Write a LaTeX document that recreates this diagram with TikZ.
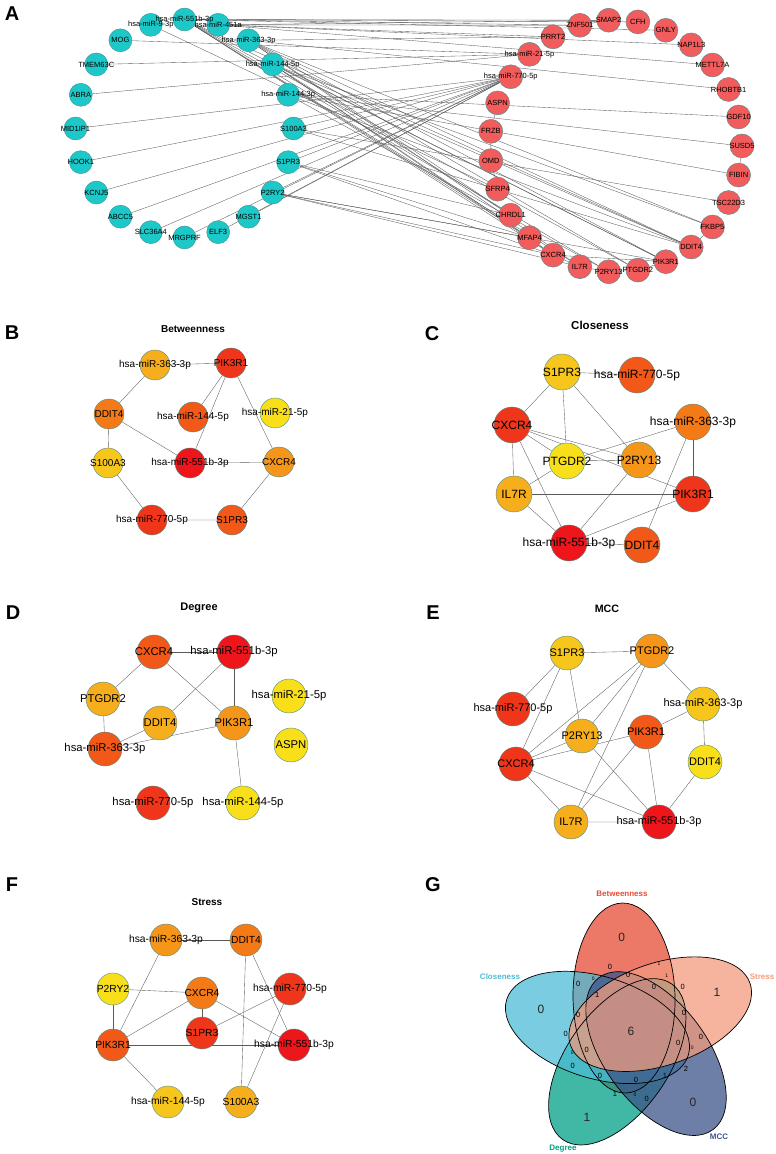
\documentclass[tikz,border=0pt]{standalone}
\usepackage{fontspec}
\setmainfont{Liberation Sans}

\pgfdeclarelayer{edges}
\pgfsetlayers{edges,main}

\definecolor{acyan}{HTML}{1CC8C8}
\definecolor{ared}{HTML}{F25C5C}
\definecolor{nline}{HTML}{4C8E8E}
\definecolor{eline}{HTML}{5A5A5A}
\definecolor{heatA}{HTML}{EE151B}
\definecolor{heatB}{HTML}{F0361A}
\definecolor{heatC}{HTML}{F25818}
\definecolor{heatD}{HTML}{F47A17}
\definecolor{heatE}{HTML}{F5961A}
\definecolor{heatF}{HTML}{F6AE1C}
\definecolor{heatG}{HTML}{F7C61C}
\definecolor{heatH}{HTML}{F8DF1A}
\definecolor{vbet}{HTML}{E64B35}
\definecolor{vclo}{HTML}{4DBBD5}
\definecolor{vdeg}{HTML}{00A087}
\definecolor{vmcc}{HTML}{3C5488}
\definecolor{vstr}{HTML}{F39B7F}

\begin{document}
\begin{tikzpicture}[x=1pt, y=1pt,
	gene/.style={circle, draw=nline, line width=0.4pt, inner sep=0pt},
	cyn/.style={gene, fill=acyan, minimum size=23pt},
	rdn/.style={gene, fill=ared, minimum size=24pt},
	atext/.style={font=\fontsize{7.5}{9}\selectfont, inner sep=0pt},
	link/.style={draw=eline, line width=0.35pt},
	tag/.style={font=\fontsize{20}{24}\selectfont\bfseries},
	heading/.style={font=\fontsize{#1}{#1}\selectfont\bfseries},
	setname/.style={font=\fontsize{8}{10}\selectfont\bfseries},
	vbig/.style={font=\fontsize{12}{14}\selectfont, text=black!85},
	vmid/.style={font=\fontsize{7.5}{8}\selectfont, text=black},
	vsml/.style={font=\fontsize{5}{5}\selectfont, text=black},
	oval/.style={fill opacity=0.75}]
	\useasboundingbox (0,0) rectangle (776,1154);

	% panel letters
	\node[tag] (tA) at (12,1140) {A};
	\node[tag] (tB) at (12,821) {B};
	\node[tag] (tC) at (432,820) {C};
	\node[tag] (tD) at (13,541) {D};
	\node[tag] (tE) at (433,541) {E};
	\node[tag] (tF) at (12,269) {F};
	\node[tag] (tG) at (433,269) {G};

	% A: whole network
	\begin{scope}[shift={(184.5,1025.5)}, every label/.style={atext}]
	\node[cyn] (a551b) at (90:109) {};
	\node[cyn] (a93p) at (108:109) {};
	\node[cyn, label=center:MOG] (aMOG) at (126:109) {};
	\node[cyn, label=center:TMEM63C] (aTMEM) at (144:109) {};
	\node[cyn, label=center:ABRA] (aABRA) at (162:109) {};
	\node[cyn, label=center:MID1IP1] (aMID) at (180:109) {};
	\node[cyn, label=center:HOOK1] (aHOOK) at (198:109) {};
	\node[cyn, label=center:KCNJ5] (aKCNJ) at (216:109) {};
	\node[cyn, label=center:ABCC5] (aABCC) at (234:109) {};
	\node[cyn, label=center:SLC36A4] (aSLC) at (252:109) {};
	\node[cyn, label=center:MRGPRF] (aMRG) at (270:109) {};
	\node[cyn, label=center:ELF3] (aELF) at (288:109) {};
	\node[cyn, label=center:MGST1] (aMGST) at (306:109) {};
	\node[cyn, label=center:P2RY2] (aP2RY2) at (324:109) {};
	\node[cyn, label=center:S1PR3] (aS1PR3) at (342:109) {};
	\node[cyn, label=center:S100A3] (aS100) at (0:109) {};
	\node[cyn, label=center:hsa-miR-144-3p] (a1443) at (18:109) {};
	\node[cyn, label=center:hsa-miR-144-5p] (a1445) at (36:109) {};
	\node[cyn, label=center:hsa-miR-363-3p] (a363) at (54:109) {};
	\node[cyn] (a451a) at (72:109) {};
	\end{scope}
	\node[atext] (t93p) at (a93p) {hsa-miR-9-3p};
	\node[atext] (t451a) at (a451a) {hsa-miR-451a};
	\node[atext] (t551b) at (a551b) {hsa-miR-551b-3p};
	\begin{scope}[shift={(616,1008)}, every label/.style={atext}]
	\node[rdn, label=center:CFH] (aCFH) at (80:126) {};
	\node[rdn, label=center:SMAP2] (aSMAP) at (93.33:126) {};
	\node[rdn, label=center:ZNF501] (aZNF) at (106.67:126) {};
	\node[rdn, label=center:PRRT2] (aPRRT) at (120:126) {};
	\node[rdn, label=center:hsa-miR-21-5p] (a215) at (133.33:126) {};
	\node[rdn, label=center:hsa-miR-770-5p] (a770) at (146.67:126) {};
	\node[rdn, label=center:ASPN] (aASPN) at (160:126) {};
	\node[rdn, label=center:FRZB] (aFRZB) at (173.33:126) {};
	\node[rdn, label=center:OMD] (aOMD) at (186.67:126) {};
	\node[rdn, label=center:SFRP4] (aSFRP) at (200:126) {};
	\node[rdn, label=center:CHRDL1] (aCHRD) at (213.33:126) {};
	\node[rdn, label=center:MFAP4] (aMFAP) at (226.67:126) {};
	\node[rdn, label=center:CXCR4] (aCXCR4) at (240:126) {};
	\node[rdn, label=center:IL7R] (aIL7R) at (253.33:126) {};
	\node[rdn, label=center:P2RY13] (aP2RY13) at (266.67:126) {};
	\node[rdn, label=center:PTGDR2] (aPTGDR2) at (280:126) {};
	\node[rdn, label=center:PIK3R1] (aPIK) at (293.33:126) {};
	\node[rdn, label=center:DDIT4] (aDDIT4) at (306.67:126) {};
	\node[rdn, label=center:FKBP5] (aFKBP) at (320:126) {};
	\node[rdn, label=center:TSC22D3] (aTSC) at (333.33:126) {};
	\node[rdn, label=center:FIBIN] (aFIBIN) at (346.67:126) {};
	\node[rdn, label=center:SUSD5] (aSUSD) at (0:126) {};
	\node[rdn, label=center:GDF10] (aGDF) at (13.33:126) {};
	\node[rdn, label=center:RHOBTB1] (aRHOB) at (26.67:126) {};
	\node[rdn, label=center:METTL7A] (aMETT) at (40:126) {};
	\node[rdn, label=center:NAP1L3] (aNAP) at (53.33:126) {};
	\node[rdn, label=center:GNLY] (aGNLY) at (66.67:126) {};
	\end{scope}
	\begin{pgfonlayer}{edges}
	\draw[link] (a551b) edge (aZNF) edge (aSMAP) edge (aCFH) edge (aGNLY) edge (aPIK) edge (aCXCR4) edge (aDDIT4) edge (aPTGDR2) edge (aP2RY13) edge (aIL7R) edge (aMFAP);
	\draw[link] (a451a) edge (aZNF) edge (aPRRT) edge (aNAP) edge (aMETT) edge (aSMAP);
	\draw[link] (a363) edge (aPIK) edge (aDDIT4) edge (aPRRT) edge (aRHOB) edge (aCHRD) edge (aPTGDR2) edge (aIL7R) edge (aFKBP);
	\draw[link] (a1445) edge (aPIK) edge (aFKBP) edge (aMFAP) edge (aCXCR4) edge (aCHRD) edge (aDDIT4);
	\draw[link] (a1443) edge (aGDF) edge (aSUSD) edge (aFIBIN) edge (aP2RY13) edge (aDDIT4);
	\draw[link] (a93p) edge (aSFRP);
	\draw[link] (a770) edge (aMID) edge (aHOOK) edge (aKCNJ) edge (aABCC) edge (aSLC) edge (aMRG) edge (aELF) edge (aMGST) edge (aP2RY2) edge (aS1PR3) edge (aS100);
	\draw[link] (a215) edge (aMOG) edge (aTMEM) edge (aABRA);
	\draw[link] (aASPN) -- (aFRZB) -- (aOMD) -- (aSFRP);
	\draw[link] (aSUSD) -- (aFIBIN);
	\draw[link] (aFKBP) -- (aDDIT4);
	\draw[link] (aZNF) -- (aSMAP);
	\draw[link] (aMFAP) -- (aCXCR4) -- (aIL7R) -- (aP2RY13) -- (aPTGDR2) -- (aPIK);
	\draw[link] (aCXCR4) -- (aPIK);
	\draw[link] (aS1PR3) edge (aCHRD) edge (aMFAP) edge (aCXCR4);
	\draw[link] (aP2RY2) edge (aMFAP) edge (aCXCR4) edge (aIL7R) edge (aPIK);
	\draw[link] (aS100) edge (aDDIT4) edge (aTSC);
	\end{pgfonlayer}

	% B: Betweenness
	\node[heading=10] (hB) at (193,825) {Betweenness};
	\begin{scope}[every label/.style={font=\fontsize{10}{12}\selectfont, inner sep=0pt}, hub/.style={gene, minimum size=30pt}]
	\node[hub, fill=heatF, label=center:hsa-miR-363-3p] (b363) at (155,789) {};
	\node[hub, fill=heatB, label=center:PIK3R1] (bPIK3R1) at (231,791) {};
	\node[hub, fill=heatD, label=center:DDIT4] (bDDIT4) at (109,740) {};
	\node[hub, fill=heatC, label=center:hsa-miR-144-5p] (b1445) at (193,737) {};
	\node[hub, fill=heatH, label=center:hsa-miR-21-5p] (b215) at (275,741) {};
	\node[hub, fill=heatG, label=center:S100A3] (bS100A3) at (108,691) {};
	\node[hub, fill=heatA, label=center:hsa-miR-551b-3p] (b551b) at (190,691) {};
	\node[hub, fill=heatE, label=center:CXCR4] (bCXCR4) at (279,692) {};
	\node[hub, fill=heatB, label=center:hsa-miR-770-5p] (b770) at (152,634) {};
	\node[hub, fill=heatC, label=center:S1PR3] (bS1PR3) at (232,634) {};
	\end{scope}
	\begin{pgfonlayer}{edges}
	\draw[link] (b363) -- (bPIK3R1);
	\draw[link] (b363) -- (bDDIT4);
	\draw[link] (bPIK3R1) edge (b1445) edge (b551b) edge (bCXCR4);
	\draw[link] (bDDIT4) edge (b551b) edge (bS100A3);
	\draw[link] (b551b) -- (bCXCR4);
	\draw[link] (bS100A3) -- (b770) -- (bS1PR3) -- (bCXCR4);
	\end{pgfonlayer}

	% C: Closeness
	\node[heading=11.5] (hC) at (600,829) {Closeness};
	\begin{scope}[every label/.style={font=\fontsize{12}{14}\selectfont, inner sep=0pt}, hub/.style={gene, minimum size=36pt}]
	\node[hub, fill=heatG, label=center:S1PR3] (cS1PR3) at (562,782) {};
	\node[hub, fill=heatC, label=center:hsa-miR-770-5p] (c770) at (637,779) {};
	\node[hub, fill=heatB, label=center:CXCR4] (cCXCR4) at (512,729) {};
	\node[hub, fill=heatD, label=center:hsa-miR-363-3p] (c363) at (693,732) {};
	\node[hub, fill=heatH, label=center:PTGDR2] (cPTGDR2) at (567,693) {};
	\node[hub, fill=heatE, label=center:P2RY13] (cP2RY13) at (639,694) {};
	\node[hub, fill=heatF, label=center:IL7R] (cIL7R) at (514,660) {};
	\node[hub, fill=heatB, label=center:PIK3R1] (cPIK3R1) at (693,660) {};
	\node[hub, fill=heatA, label=center:hsa-miR-551b-3p] (c551b) at (569,611) {};
	\node[hub, fill=heatC, label=center:DDIT4] (cDDIT4) at (642,609) {};
	\end{scope}
	\begin{pgfonlayer}{edges}
	\draw[link] (cS1PR3) edge (c770) edge (cCXCR4) edge (cPTGDR2) edge (cP2RY13);
	\draw[link] (cCXCR4) edge (cPTGDR2) edge (cP2RY13) edge (cPIK3R1) edge (cIL7R) edge (c551b);
	\draw[link] (cPTGDR2) edge (cP2RY13) edge (c363) edge (cIL7R);
	\draw[link] (cP2RY13) -- (c551b);
	\draw[link] (cIL7R) edge (cPIK3R1) edge (c551b);
	\draw[link] (c363) edge (cPIK3R1) edge (cDDIT4);
	\draw[link] (cPIK3R1) -- (c551b) -- (cDDIT4);
	\end{pgfonlayer}

	% D: Degree
	\node[heading=11] (hD) at (199,546) {Degree};
	\begin{scope}[every label/.style={font=\fontsize{11.3}{13}\selectfont, inner sep=0pt}, hub/.style={gene, minimum size=34pt}]
	\node[hub, fill=heatC, label=center:CXCR4] (dCXCR4) at (154,502) {};
	\node[hub, fill=heatA, label=center:hsa-miR-551b-3p] (d551b) at (234,502) {};
	\node[hub, fill=heatF, label=center:PTGDR2] (dPTGDR2) at (103,455) {};
	\node[hub, fill=heatH, label=center:hsa-miR-21-5p] (d215) at (289,458) {};
	\node[hub, fill=heatF, label=center:DDIT4] (dDDIT4) at (160,431) {};
	\node[hub, fill=heatE, label=center:PIK3R1] (dPIK3R1) at (234,431) {};
	\node[hub, fill=heatC, label=center:hsa-miR-363-3p] (d363) at (105,405) {};
	\node[hub, fill=heatH, label=center:ASPN] (dASPN) at (291,409) {};
	\node[hub, fill=heatB, label=center:hsa-miR-770-5p] (d770) at (153,351) {};
	\node[hub, fill=heatH, label=center:hsa-miR-144-5p] (d1445) at (243,351) {};
	\end{scope}
	\begin{pgfonlayer}{edges}
	\draw[link] (dCXCR4) edge (d551b) edge (dPTGDR2) edge (dPIK3R1);
	\draw[link] (d551b) edge (dDDIT4) edge (dPIK3R1);
	\draw[link] (d363) edge (dPTGDR2) edge (dDDIT4) edge (dPIK3R1);
	\draw[link] (dPIK3R1) -- (d1445);
	\end{pgfonlayer}

	% E: MCC
	\node[heading=10.7] (hE) at (607,545) {MCC};
	\begin{scope}[every label/.style={font=\fontsize{11}{13}\selectfont, inner sep=0pt}, hub/.style={gene, minimum size=34pt}]
	\node[hub, fill=heatG, label=center:S1PR3] (eS1PR3) at (567,501) {};
	\node[hub, fill=heatE, label=center:PTGDR2] (ePTGDR2) at (652,503) {};
	\node[hub, fill=heatB, label=center:hsa-miR-770-5p] (e770) at (513,445) {};
	\node[hub, fill=heatG, label=center:hsa-miR-363-3p] (e363) at (703,450) {};
	\node[hub, fill=heatF, label=center:P2RY13] (eP2RY13) at (582,418) {};
	\node[hub, fill=heatC, label=center:PIK3R1] (ePIK3R1) at (646,422) {};
	\node[hub, fill=heatB, label=center:CXCR4] (eCXCR4) at (516,390) {};
	\node[hub, fill=heatH, label=center:DDIT4] (eDDIT4) at (705,392) {};
	\node[hub, fill=heatF, label=center:IL7R] (eIL7R) at (571,332) {};
	\node[hub, fill=heatA, label=center:hsa-miR-551b-3p] (e551b) at (659,332) {};
	\end{scope}
	\begin{pgfonlayer}{edges}
	\draw[link] (eS1PR3) edge (ePTGDR2) edge (e770) edge (eCXCR4) edge (eP2RY13);
	\draw[link] (ePTGDR2) edge (e363) edge (eCXCR4) edge (eP2RY13) edge (eIL7R);
	\draw[link] (e363) edge (ePIK3R1) edge (eDDIT4);
	\draw[link] (ePIK3R1) edge (eCXCR4) edge (eIL7R) edge (e551b);
	\draw[link] (eP2RY13) edge (eCXCR4) edge (e551b);
	\draw[link] (eCXCR4) edge (eIL7R) edge (e551b);
	\draw[link] (eIL7R) -- (e551b) -- (eDDIT4);
	\end{pgfonlayer}

	% F: Stress
	\node[heading=10] (hF) at (207,252) {Stress};
	\begin{scope}[every label/.style={font=\fontsize{10.3}{12}\selectfont, inner sep=0pt}, hub/.style={gene, minimum size=32pt}]
	\node[hub, fill=heatE, label=center:hsa-miR-363-3p] (f363) at (166,214) {};
	\node[hub, fill=heatD, label=center:DDIT4] (fDDIT4) at (246,214) {};
	\node[hub, fill=heatH, label=center:P2RY2] (fP2RY2) at (113,165) {};
	\node[hub, fill=heatD, label=center:CXCR4] (fCXCR4) at (202,161) {};
	\node[hub, fill=heatB, label=center:hsa-miR-770-5p] (f770) at (290,165) {};
	\node[hub, fill=heatB, label=center:S1PR3] (fS1PR3) at (202,121) {};
	\node[hub, fill=heatC, label=center:PIK3R1] (fPIK3R1) at (113,109) {};
	\node[hub, fill=heatA, label=center:hsa-miR-551b-3p] (f551b) at (294,109) {};
	\node[hub, fill=heatG, label=center:hsa-miR-144-5p] (f1445) at (168,52) {};
	\node[hub, fill=heatF, label=center:S100A3] (fS100A3) at (241,52) {};
	\end{scope}
	\begin{pgfonlayer}{edges}
	\draw[link] (f363) edge (fDDIT4) edge (fPIK3R1);
	\draw[link] (fP2RY2) edge (fCXCR4) edge (fPIK3R1);
	\draw[link] (fCXCR4) edge (fS1PR3) edge (fPIK3R1) edge (f551b);
	\draw[link] (fDDIT4) edge (fS100A3) edge (f551b);
	\draw[link] (f770) edge (fS1PR3) edge (fS100A3);
	\draw[link] (fPIK3R1) edge (f551b) edge (f1445);
	\end{pgfonlayer}

	% G: Venn of the five rankings
	\begin{scope}[shift={(631,123)}]
	\fill[vbet, oval, rotate=91] (33.1,6.4) ellipse [x radius=95, y radius=51];
	\fill[vdeg, oval, rotate=235] (33.1,6.4) ellipse [x radius=95, y radius=51];
	\fill[vclo, oval, rotate=163] (33.1,6.4) ellipse [x radius=95, y radius=51];
	\fill[vmcc, oval, rotate=307] (33.1,6.4) ellipse [x radius=95, y radius=51];
	\fill[vstr, oval, rotate=19] (33.1,6.4) ellipse [x radius=95, y radius=51];
	\foreach \ang in {91,163,235,307,19}
		\draw[line width=0.7pt, rotate=\ang] (33.1,6.4) ellipse [x radius=95, y radius=51];
	\end{scope}
	\node[setname, text=vbet] (sBet) at (622,260) {Betweenness};
	\node[setname, text=vclo] (sClo) at (500,177) {Closeness};
	\node[setname, text=vstr] (sStr) at (762,177) {Stress};
	\node[setname, text=vmcc] (sMcc) at (719,17) {MCC};
	\node[setname, text=vdeg] (sDeg) at (563,5) {Degree};

	\node[vbig] (g01) at (621.7,216.7) {0};
	\node[vbig] (g02) at (541,145) {0};
	\node[vbig] (g03) at (717,162) {1};
	\node[vbig] (g04) at (693,52) {0};
	\node[vbig] (g05) at (587,37) {1};
	\node[vbig] (g06) at (631,123) {6};
	\node[vmid] (g07) at (610,187) {0};
	\node[vmid] (g08) at (628.3,179) {0};
	\node[vmid] (g09) at (578.3,170) {0};
	\node[vmid] (g10) at (654,167.3) {0};
	\node[vmid] (g11) at (682.7,166.7) {0};
	\node[vmid] (g12) at (597.3,159) {1};
	\node[vmid] (g13) at (578.3,139) {0};
	\node[vmid] (g14) at (684,140.7) {0};
	\node[vmid] (g15) at (565.7,120) {0};
	\node[vmid] (g16) at (701,117.3) {0};
	\node[vmid] (g17) at (678.3,111.3) {0};
	\node[vmid] (g18) at (586.7,104) {0};
	\node[vmid] (g19) at (572.7,88) {0};
	\node[vmid] (g20) at (686,84.7) {2};
	\node[vmid] (g21) at (600,78) {0};
	\node[vmid] (g22) at (636,74) {0};
	\node[vmid] (g23) at (665,78) {1};
	\node[vmid] (g24) at (615,60) {1};
	\node[vmid] (g25) at (646.7,55.3) {0};
	\node[vsml] (g26) at (659,190) {1};
	\node[vsml] (g27) at (593.3,175.7) {0};
	\node[vsml] (g28) at (666.7,178) {1};
	\node[vsml] (g29) at (572.3,101.3) {0};
	\node[vsml] (g30) at (692.3,106.3) {0};
	\node[vsml] (g31) at (635,59.7) {0};
\end{tikzpicture}
\end{document}
